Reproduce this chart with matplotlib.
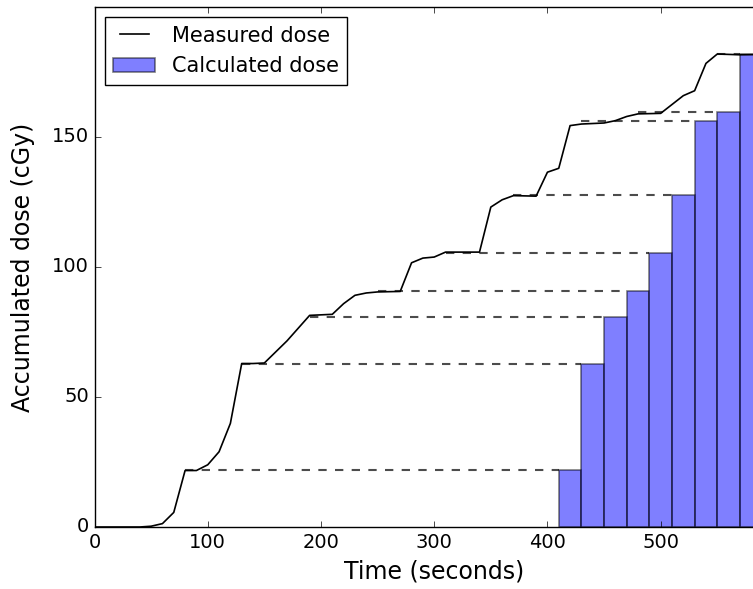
import matplotlib
matplotlib.use('Agg')
import matplotlib.pyplot as plt

plt.style.use('classic')

# measured curve (time in s, accumulated dose in cGy)
time_s = [0, 40, 50, 60, 70, 80, 90, 100, 110, 120, 130, 140, 150, 170, 190,
          210, 220, 230, 240, 250, 270, 280, 290, 300, 310, 340, 350, 360, 370,
          390, 400, 410, 420, 430, 450, 460, 470, 480, 500, 510, 520, 530, 540,
          550, 570, 590]
measured = [0, 0, 0.3, 1.3, 5.6, 21.7, 21.7, 23.9, 28.9, 39.8, 62.8, 62.8, 63.0,
            71.5, 81.3, 81.7, 85.8, 89.0, 89.9, 90.3, 90.5, 101.5, 103.3, 103.7,
            105.6, 105.6, 122.9, 125.7, 127.3, 127.1, 136.3, 137.8, 154.2, 154.8,
            155.2, 156.1, 157.7, 158.7, 158.9, 162.3, 165.7, 167.6, 178.1, 181.7,
            181.4, 181.5]

# calculated dose bars
bar_left = [410, 430, 450, 470, 490, 510, 530, 550, 570]
calculated = [21.9, 62.8, 80.7, 90.6, 105.4, 127.4, 155.9, 159.6, 181.6]
# time at which the measured curve reaches each calculated level
reach_time = [80, 130, 190, 250, 310, 370, 430, 480, 550]

fig = plt.figure(figsize=(7.53, 5.89), dpi=100, facecolor='white')
ax = fig.add_axes([94.5 / 753, 62 / 589, 679.4 / 753, 520 / 589])

ax.plot(time_s, measured, color='k', lw=1.2, label='Measured dose')
ax.bar(bar_left, calculated, width=20, align='edge', color='b', alpha=0.5,
       edgecolor='k', lw=1.2, label='Calculated dose')
for t0, t1, lvl in zip(reach_time, bar_left, calculated):
    ax.plot([t0, t1], [lvl, lvl], 'k--', lw=1.5, alpha=0.7)

ax.set_xlim(0, 600)
ax.set_ylim(0, 1.1 * max(calculated))
ax.set_xticks([0, 100, 200, 300, 400, 500])
ax.set_yticks([0, 50, 100, 150])
ax.tick_params(labelsize=14)
ax.set_xlabel('Time (seconds)', fontsize=17, labelpad=6)
ax.set_ylabel('Accumulated dose (cGy)', fontsize=17, labelpad=12)
ax.legend(loc='upper left', fontsize=15, handlelength=2, numpoints=2)

fig.savefig('out.png', dpi=100, facecolor='white')
